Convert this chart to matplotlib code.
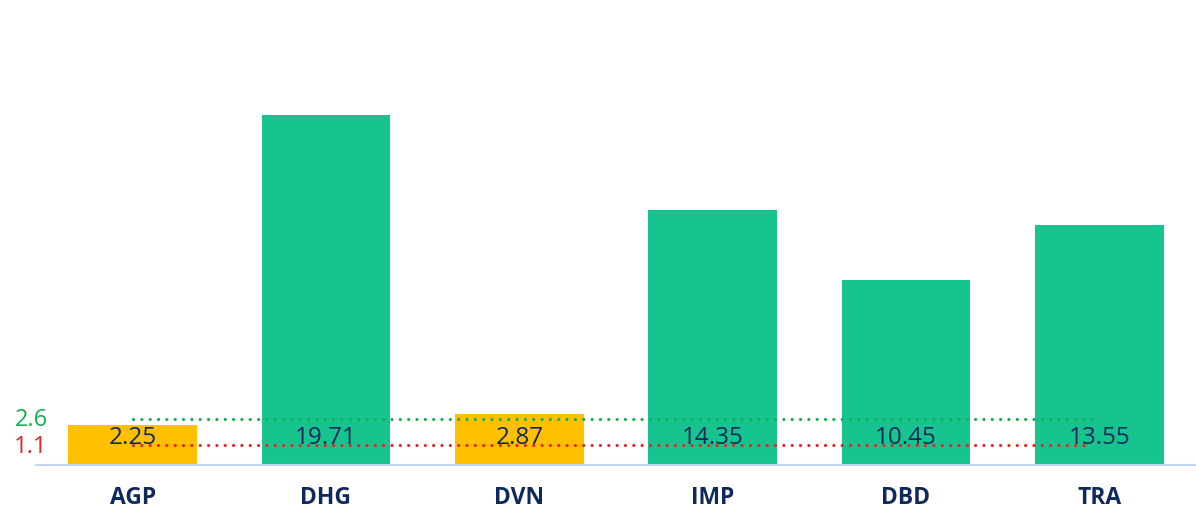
import matplotlib.pyplot as plt

plt.rcParams['font.family'] = ['Open Sans', 'DejaVu Sans']

tickers = ['AGP', 'DHG', 'DVN', 'IMP', 'DBD', 'TRA']
values = [2.25, 19.71, 2.87, 14.35, 10.45, 13.55]
ref_high = 2.6
ref_low = 1.1

GREEN = '#17C48F'
YELLOW = '#FFC000'
NAVY = '#0E2A5C'
LINE_GREEN = '#12B050'
LINE_RED = '#EE2020'

colors = [YELLOW if v < ref_high * 1.2 else GREEN for v in values]

fig = plt.figure(figsize=(11.96, 5.12), dpi=100)
ax = fig.add_axes([36 / 1196, (512 - 465) / 512, 1160 / 1196, 465 / 512])

x = range(len(tickers))
ax.bar(x, values, width=0.667, color=colors, zorder=2)

ax.hlines(ref_high, 0, len(tickers) - 1, colors=LINE_GREEN, linewidth=2.3,
          linestyles=(0, (0.01, 2.6)), capstyle='round', zorder=3)
ax.hlines(ref_low, 0, len(tickers) - 1.05, colors=LINE_RED, linewidth=2.3,
          linestyles=(0, (0.01, 2.6)), capstyle='round', zorder=3)

for i, v in enumerate(values):
    ax.text(i, 1.5, f'{v:.2f}', ha='center', va='center', fontsize=17.5,
            color=NAVY, zorder=4)

ax.text(-0.44, ref_high - 0.05, '2.6', ha='right', va='center', fontsize=17,
        color=LINE_GREEN, clip_on=False)
ax.text(-0.44, ref_low - 0.1, '1.1', ha='right', va='center', fontsize=17,
        color=LINE_RED, clip_on=False)

ax.set_xlim(-0.5, 5.5)
ax.set_ylim(0, 26.2)
ax.set_xticks(list(x))
ax.set_xticklabels(tickers, fontsize=16.5, fontweight='bold', color=NAVY)
ax.tick_params(axis='x', length=0, pad=15)
ax.set_yticks([])
for s in ['top', 'right', 'left']:
    ax.spines[s].set_visible(False)
ax.spines['bottom'].set_color('#C5D5F5')
ax.spines['bottom'].set_linewidth(1.5)

fig.savefig('out.png', dpi=100)
